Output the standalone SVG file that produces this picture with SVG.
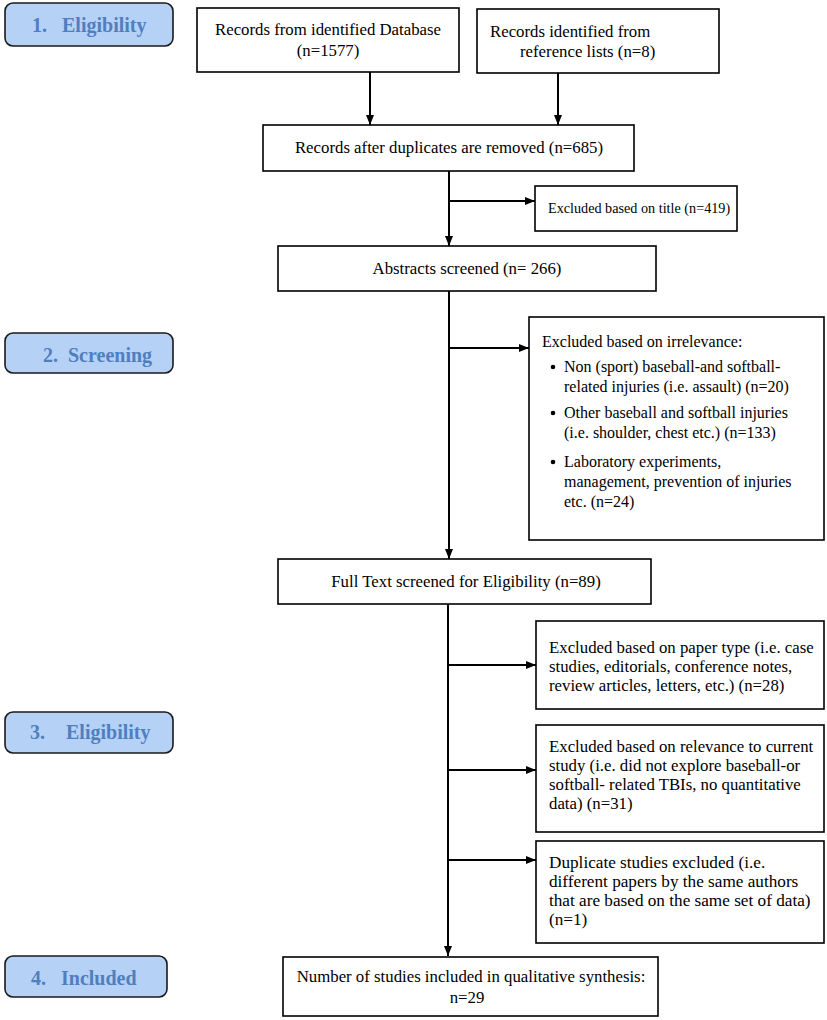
<svg xmlns="http://www.w3.org/2000/svg" width="827" height="1020" viewBox="0 0 827 1020">
<style>
.box{fill:#fff;stroke:#000;stroke-width:1.6}
.lab{fill:#b6d1f6;stroke:#1a1a1a;stroke-width:1.6}
.lt{font-family:"Liberation Serif",serif;font-weight:bold;font-size:20px;fill:#4f7fbe}
.t{font-family:"Liberation Serif",serif;font-size:16.8px;fill:#000}
.s16{font-size:16px}
.s14{font-size:14.2px}
.s17{font-size:17.2px}
.c{text-anchor:middle}
.ln{stroke:#000;stroke-width:2;fill:none}
</style>
<defs>
<marker id="ah" markerWidth="10" markerHeight="10" viewBox="0 0 10 10" refX="10" refY="5" orient="auto" markerUnits="userSpaceOnUse">
<path d="M0,1 L10,5 L0,9 Z" fill="#000"/>
</marker>
</defs>
<g id="label1"><rect class="lab" x="5" y="3" width="168" height="43" rx="8"/><text class="lt" x="32" y="32">1.</text><text class="lt" x="62" y="32">Eligibility</text></g>
<g id="label2"><rect class="lab" x="5" y="333" width="168" height="40" rx="8"/><text class="lt" x="43" y="362">2.</text><text class="lt" x="68" y="362">Screening</text></g>
<g id="label3"><rect class="lab" x="5" y="712" width="168" height="41" rx="8"/><text class="lt" x="30" y="739">3.</text><text class="lt" x="66" y="739">Eligibility</text></g>
<g id="label4"><rect class="lab" x="5" y="956" width="162" height="41" rx="8"/><text class="lt" x="31" y="985">4.</text><text class="lt" x="61" y="985">Included</text></g>

<g id="database"><rect class="box" x="197" y="8" width="262" height="64"/><text class="t c" x="328" y="35">Records from identified Database</text><text class="t c" x="328" y="56">(n=1577)</text></g>
<g id="reflists"><rect class="box" x="477" y="9" width="242" height="64"/><text class="t" x="490" y="37">Records identified from</text><text class="t" x="520" y="57">reference lists (n=8)</text></g>
<g id="dedup"><rect class="box" x="263" y="125" width="371" height="46"/><text class="t c" x="449" y="153">Records after duplicates are removed (n=685)</text></g>
<g id="excl-title"><rect class="box" x="535" y="186" width="202" height="45"/><text class="t s14" x="548" y="213">Excluded based on title (n=419)</text></g>
<g id="abstracts"><rect class="box" x="278" y="246" width="378" height="45"/><text class="t c" x="467" y="274">Abstracts screened (n= 266)</text></g>
<g id="excl-irrel"><rect class="box" x="529" y="317" width="295" height="223"/>
<text class="t s16" x="542" y="347">Excluded based on irrelevance:</text>
<circle cx="553" cy="367" r="2.3"/><text class="t s16" x="564" y="372">Non (sport) baseball-and softball-</text>
<text class="t s16" x="564" y="392">related injuries (i.e. assault) (n=20)</text>
<circle cx="553" cy="413" r="2.3"/><text class="t s16" x="564" y="418">Other baseball and softball injuries</text>
<text class="t s16" x="564" y="438">(i.e. shoulder, chest etc.) (n=133)</text>
<circle cx="553" cy="462" r="2.3"/><text class="t s16" x="564" y="467">Laboratory experiments,</text>
<text class="t s16" x="564" y="487">management, prevention of injuries</text>
<text class="t s16" x="564" y="507">etc. (n=24)</text></g>
<g id="fulltext"><rect class="box" x="278" y="559" width="373" height="45"/><text class="t c" x="466" y="587">Full Text screened for Eligibility (n=89)</text></g>
<g id="excl-type"><rect class="box" x="536" y="621" width="288" height="88"/>
<text class="t" x="549" y="653">Excluded based on paper type (i.e. case</text>
<text class="t" x="549" y="672">studies, editorials, conference notes,</text>
<text class="t" x="549" y="691">review articles, letters, etc.) (n=28)</text></g>
<g id="excl-relev"><rect class="box" x="536" y="725" width="288" height="107"/>
<text class="t" x="549" y="752">Excluded based on relevance to current</text>
<text class="t" x="549" y="771">study (i.e. did not explore baseball-or</text>
<text class="t" x="549" y="790">softball- related TBIs, no quantitative</text>
<text class="t" x="549" y="809">data) (n=31)</text></g>
<g id="excl-dup"><rect class="box" x="536" y="841" width="288" height="102"/>
<text class="t s17" x="549" y="868">Duplicate studies excluded (i.e.</text>
<text class="t s17" x="549" y="887">different papers by the same authors</text>
<text class="t s17" x="549" y="906">that are based on the same set of data)</text>
<text class="t s17" x="549" y="925">(n=1)</text></g>
<g id="included"><rect class="box" x="283" y="957" width="375" height="59"/><text class="t c" x="471" y="982">Number of studies included in qualitative synthesis:</text><text class="t c" x="467" y="1003">n=29</text></g>

<g id="connectors">
<line class="ln" x1="370" y1="72" x2="370" y2="125" marker-end="url(#ah)"/>
<line class="ln" x1="558" y1="73" x2="558" y2="125" marker-end="url(#ah)"/>
<line class="ln" x1="449" y1="171" x2="449" y2="246" marker-end="url(#ah)"/>
<line class="ln" x1="449" y1="201" x2="535" y2="201" marker-end="url(#ah)"/>
<line class="ln" x1="449" y1="291" x2="449" y2="559" marker-end="url(#ah)"/>
<line class="ln" x1="449" y1="348" x2="529" y2="348" marker-end="url(#ah)"/>
<line class="ln" x1="448" y1="604" x2="448" y2="956" marker-end="url(#ah)"/>
<line class="ln" x1="448" y1="665" x2="536" y2="665" marker-end="url(#ah)"/>
<line class="ln" x1="448" y1="770" x2="536" y2="770" marker-end="url(#ah)"/>
<line class="ln" x1="448" y1="860" x2="536" y2="860" marker-end="url(#ah)"/>
</g>
</svg>
